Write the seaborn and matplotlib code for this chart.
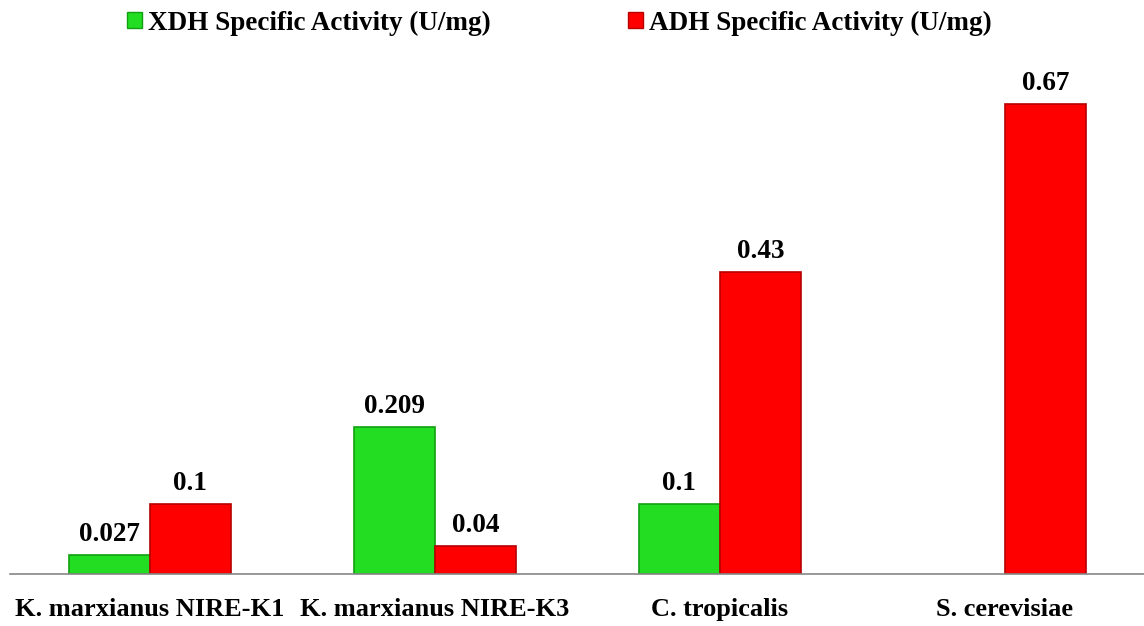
import pandas as pd
import matplotlib.pyplot as plt
import seaborn as sns

sns.set_theme(style='white')
plt.rcParams['font.family'] = ['Liberation Serif', 'DejaVu Serif']
plt.rcParams['font.weight'] = 'bold'
plt.rcParams['text.color'] = 'black'
plt.rcParams['xtick.color'] = 'black'

# Datos
cepas = ["K. marxianus NIRE-K1", "K. marxianus NIRE-K3", "C. tropicalis", "S. cerevisiae"]
xdh = [0.027, 0.209, 0.1, 0.0]
adh = [0.1, 0.04, 0.43, 0.67]
series = ["XDH Specific Activity (U/mg)", "ADH Specific Activity (U/mg)"]
colores = ["#22DD22", "#FF0000"]
bordes = ["#12A012", "#B80000"]

df = pd.DataFrame({
    "cepa": cepas * 2,
    "valor": xdh + adh,
    "serie": [series[0]] * len(cepas) + [series[1]] * len(cepas),
})

fig = plt.figure(figsize=(11.44, 6.26), dpi=100)
ax = fig.add_axes([0.0087, 0.0831, 0.9913, 0.821])

sns.barplot(data=df, x="cepa", y="valor", hue="serie", palette=colores,
            width=0.568, gap=0, saturation=1, ax=ax, legend=True)

# bordes y etiquetas
for cont, borde in zip(ax.containers, bordes):
    for bar in cont:
        bar.set_edgecolor(borde)
        bar.set_linewidth(1.2)
        h = bar.get_height()
        if h > 0:
            ax.annotate(f"{h:g}", (bar.get_x() + bar.get_width() / 2, h),
                        xytext=(0, 6), textcoords="offset points", color="black",
                        ha="center", va="bottom", fontsize=19.5, fontweight="bold")
        else:
            bar.set_visible(False)

ax.set_xlim(-0.491, 3.488)
ax.set_ylim(0, 0.733)
ax.set_xlabel("")
ax.set_ylabel("")
ax.set_yticks([])
ax.tick_params(axis="x", length=0, pad=17.5, labelsize=19, labelcolor="black")
for lab in ax.get_xticklabels():
    lab.set_fontweight("bold")
for s in ["top", "right", "left"]:
    ax.spines[s].set_visible(False)
ax.spines["bottom"].set_color("#868686")
ax.spines["bottom"].set_linewidth(1.2)

handles, labels = ax.get_legend_handles_labels()
ax.get_legend().remove()
leg = fig.legend(handles, labels, loc="center", bbox_to_anchor=(0.489, 0.963), ncol=2,
                 frameon=False, fontsize=19.5, handlelength=0.55, handleheight=0.55,
                 handletextpad=0.2, columnspacing=5.1, labelcolor="black")
for t in leg.get_texts():
    t.set_fontweight("bold")
for h, borde in zip(leg.legend_handles, bordes):
    h.set_edgecolor(borde)
    h.set_linewidth(1)

plt.savefig("out.png", dpi=100)
plt.close()
